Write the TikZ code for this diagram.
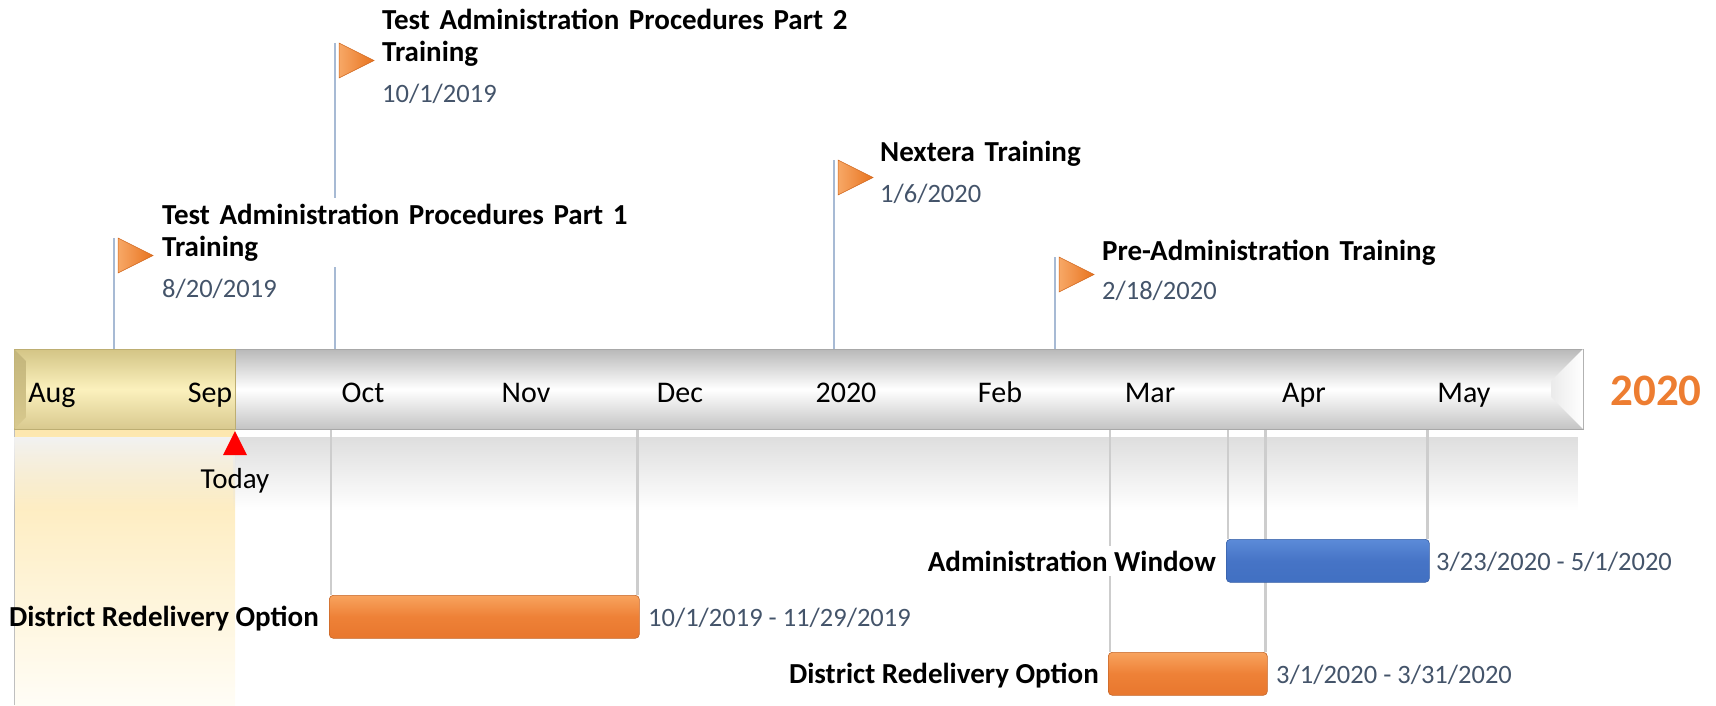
\documentclass[tikz,border=0pt]{standalone}
\usepackage{fontspec}
\setmainfont{Carlito}
\usetikzlibrary{calc,fadings}
\definecolor{poleblue}{HTML}{A7BAD4}
\definecolor{slate}{HTML}{44546A}
\definecolor{accor}{HTML}{ED7D31}
\definecolor{orTop}{HTML}{F8A35E}
\definecolor{orMid}{HTML}{EE8137}
\definecolor{orBot}{HTML}{E8772E}
\definecolor{blTop}{HTML}{5C8BD8}
\definecolor{blMid}{HTML}{4674C6}
\definecolor{blBot}{HTML}{4170C2}
\definecolor{goldTop}{HTML}{D4C586}
\definecolor{goldMid}{HTML}{FBF1BD}
\definecolor{goldBot}{HTML}{D8C98E}
\definecolor{goldEdge}{HTML}{BDAE72}
\definecolor{barTop}{HTML}{B9B9B9}
\definecolor{barBot}{HTML}{C3C3C3}
\definecolor{barEdge}{HTML}{A8A8A8}
\definecolor{stripTop}{HTML}{FDE7AE}
\definecolor{stripBot}{HTML}{FFFDF6}
\definecolor{taskgray}{HTML}{CDCDCD}
\definecolor{flagL}{HTML}{F7A866}
\definecolor{flagR}{HTML}{E8731F}
\definecolor{flagEdge}{HTML}{D0661C}
\tikzfading[name=fadedown, top color=transparent!0, bottom color=transparent!100]
\tikzset{
  ttl/.style={anchor=base west, inner xsep=0pt, inner ysep=0pt, text width=480pt, align=left,
    font=\fontsize{29}{32}\selectfont\bfseries},
  dte/.style={anchor=base west, inner sep=0pt, text=slate, font=\fontsize{26.5}{30}\selectfont},
  month/.style={anchor=base, inner sep=0pt, font=\fontsize{30}{34}\selectfont},
  lbl/.style={anchor=base east, inner sep=0pt, font=\fontsize{29}{32}\selectfont\bfseries},
  pole/.style={draw=poleblue, line width=1.8pt},
  tline/.style={draw=taskgray, line width=2.5pt},
  tbar/.style={rounded corners=4pt, line width=0.6pt, inner sep=0pt, anchor=north west, minimum height=43pt},
  orbar/.style={tbar, top color=orTop, bottom color=orBot, middle color=orMid, draw=orBot!85!black},
  blbar/.style={tbar, top color=blTop, bottom color=blBot, middle color=blMid, draw=blBot!85!black},
  msflag/.pic={\shade[left color=flagL, right color=flagR, draw=flagEdge, line width=0.5pt]
     (4,0) -- (39,17.5) -- (4,35) -- cycle;}
}
\begin{document}
\begin{tikzpicture}[x=1pt,y=-1pt]
\useasboundingbox (0,0) rectangle (1716,705);
% highlighted strip below the past part
\shade[top color=stripTop, bottom color=stripBot] (14,429) rectangle (235,705);
\draw[black!25, line width=0.6pt] (14,429) -- (14,705);
% reflection under the bar
\fill[black!13, path fading=fadedown] (235,437) rectangle (1583,510);
\fill[black!5, path fading=fadedown] (14,437) rectangle (235,510);
% main bar
\node[draw=barEdge, line width=0.8pt, top color=barTop, bottom color=barBot, middle color=white,
  minimum width=1348pt, minimum height=80pt, inner sep=0pt, anchor=north west] (graybar) at (235,349) {};
\node[draw=goldEdge, line width=0.8pt, top color=goldTop, bottom color=goldBot, middle color=goldMid,
  minimum width=221pt, minimum height=80pt, inner sep=0pt, anchor=north west] (goldbar) at (14,349) {};
\shade[left color=black!8, right color=white] (1583,349) -- (1551,381) -- (1551,397) -- (1583,429) -- cycle;
\shade[top color=goldTop!92!black, bottom color=goldBot] (14.4,349.4) -- (26,361) -- (26,417) -- (14.4,428.6) -- cycle;
% months
\node[month] (mAug) at (52,402) {Aug};
\node[month] (mSep) at (210,402) {Sep};
\node[month] (mOct) at (363,402) {Oct};
\node[month] (mNov) at (526,402) {Nov};
\node[month] (mDec) at (680,402) {Dec};
\node[month] (mJan) at (846,402) {2020};
\node[month] (mFeb) at (1000,402) {Feb};
\node[month] (mMar) at (1150,402) {Mar};
\node[month] (mApr) at (1304,402) {Apr};
\node[month] (mMay) at (1464,402) {May};
\node[anchor=base, inner sep=0pt, text=accor, font=\fontsize{45}{50}\selectfont\bfseries] (yr) at (1656,405) {2020};
% today
\fill[red] (235,431) -- (247,455) -- (223,455) -- cycle;
\node[anchor=base, inner sep=0pt, font=\fontsize{29}{32}\selectfont] (today) at (235,488) {Today};
% milestone poles
\coordinate (p1) at (114,238);
\coordinate (p2) at (335,43);
\coordinate (p3) at (834,160);
\coordinate (p4) at (1055,257);
\draw[pole] (p1) -- (p1 |- goldbar.north);
\draw[pole] (p2) -- (p2 |- graybar.north);
\draw[pole] (p3) -- (p3 |- graybar.north);
\draw[pole] (p4) -- (p4 |- graybar.north);
\pic at (p1) {msflag};
\pic at (p2) {msflag};
\pic at (p3) {msflag};
\pic at (p4) {msflag};
% milestone texts
\node[ttl, fill=white, inner ysep=6pt] (t1) at (162,224.5) {Test Administration Procedures Part 1\\Training};
\node[dte] (d1) at (162,297) {8/20/2019};
\node[ttl] (t2) at (382,29.5) {Test Administration Procedures Part 2\\Training};
\node[dte] (d2) at (382,102) {10/1/2019};
\node[ttl] (t3) at (880,161) {Nextera Training};
\node[dte] (d3) at (880,202) {1/6/2020};
\node[ttl] (t4) at (1102,260) {Pre-Administration Training};
\node[dte] (d4) at (1102,299) {2/18/2020};
% task bar frames (anchors for their connectors)
\coordinate (r1nw) at (329,595);
\coordinate (awnw) at (1226,539);
\coordinate (r2nw) at (1108,652);
\path (r1nw) node[tbar, minimum width=310pt] (r1) {};
\path (awnw) node[tbar, minimum width=203pt] (aw) {};
\path (r2nw) node[tbar, minimum width=159pt] (r2) {};
\coordinate (r1a) at ($(r1.north west)+(2,0)$);
\coordinate (r1b) at ($(r1.north east)+(-2,0)$);
\coordinate (awa) at ($(aw.north west)+(2,0)$);
\coordinate (awb) at ($(aw.north east)+(-2,0)$);
\coordinate (r2a) at ($(r2.north west)+(2,0)$);
\coordinate (r2b) at ($(r2.north east)+(-2,0)$);
\draw[tline] (r1a) -- (r1a |- graybar.south);
\draw[tline] (r1b) -- (r1b |- graybar.south);
\draw[tline] (awa) -- (awa |- graybar.south);
\draw[tline] (awb) -- (awb |- graybar.south);
\draw[tline] (r2a) -- (r2a |- graybar.south);
\draw[tline] (r2b) -- (r2b |- graybar.south);
% task bars
\node[orbar, minimum width=310pt] (r1f) at (r1nw) {};
\node[blbar, minimum width=203pt] (awf) at (awnw) {};
\node[orbar, minimum width=159pt] (r2f) at (r2nw) {};
% labels
\node[lbl] (r1l) at (319,626) {District Redelivery Option};
\node[dte] (r1d) at (648,626) {10/1/2019 - 11/29/2019};
\node[lbl, fill=white, inner ysep=5pt, inner xsep=1pt] (awl) at (1217,571) {Administration Window};
\node[dte] (awd) at (1436,570) {3/23/2020 - 5/1/2020};
\node[lbl] (r2l) at (1099,683) {District Redelivery Option};
\node[dte] (r2d) at (1276,683) {3/1/2020 - 3/31/2020};
\end{tikzpicture}
\end{document}
